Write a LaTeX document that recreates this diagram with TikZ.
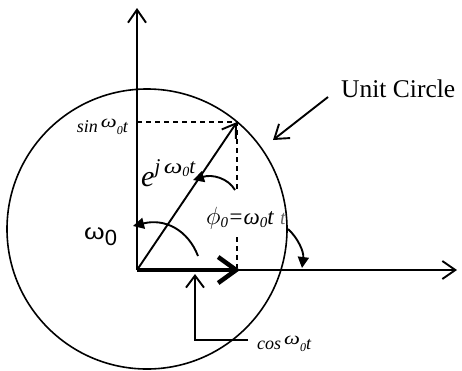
\documentclass[tikz,border=0pt]{standalone}
\usepackage{fontspec}
\setmainfont{Liberation Serif}
\newfontfamily\arialfont{Liberation Sans}
\usetikzlibrary{arrows.meta}
\newcommand{\wideom}{\scalebox{1.25}[1]{ω}}
\begin{document}
\begin{tikzpicture}[x=1pt,y=-1pt,
  barb/.style={-{Straight Barb[length=13pt,width=18pt]}},
  fillhead/.style={-{Triangle[length=11pt,width=11pt]}},
  thin line/.style={line width=1.9pt},
  lab/.style={inner sep=0pt, font=\itshape}]
\useasboundingbox (0,0) rectangle (462,370);
% coordinates
\coordinate (O) at (137,270);
\coordinate (Ytop) at (137,8);
\coordinate (Xend) at (457,270);
\coordinate (C) at (147,229);
\coordinate (P) at (237,122);
\coordinate (S) at (137,122);
\coordinate (Q) at (240,270);
\coordinate (D1) at (237,190);
\coordinate (D2) at (237,237);
\coordinate (D3) at (237,268);
\coordinate (uA) at (328,97);
\coordinate (uT) at (273,140);
\coordinate (cA) at (248,340);
\coordinate (cB) at (195,340);
\coordinate (cT) at (195,274);
\coordinate (pA) at (235,190);
\coordinate (pT) at (193,180);
\coordinate (wA) at (198,256);
\coordinate (wT) at (133,226);
\coordinate (tA) at (288,229);
\coordinate (tT) at (302,268);
% circle
\draw[line width=1.6pt] (C) circle[radius=140pt];
% axes
\draw[thin line, barb] (O) -- (Ytop);
\draw[thin line, barb] (O) -- (Xend);
% dashed projections
\draw[line width=1.2pt, dash pattern=on 5pt off 4pt] (S) -- (P) -- (D1);
\draw[line width=1.2pt, dash pattern=on 5pt off 4pt] (D2) -- (D3);
% vectors
\draw[thin line, -{Straight Barb[length=13pt,width=17pt]}] (O) -- (P);
\draw[line width=4.5pt, -{Straight Barb[length=18pt,width=26pt]}] (O) -- (Q);
% angle arcs
\draw[thin line, fillhead] (pA) .. controls (228,178) and (212,174) .. (pT);
\draw[thin line, fillhead] (wA) .. controls (188,230) and (165,218) .. (wT);
\draw[thin line, fillhead] (tA) .. controls (298,238) and (304,252) .. (tT);
% unit circle pointer
\draw[thin line, barb] (uA) -- (uT);
% cos pointer
\draw[thin line, -{Straight Barb[length=12pt,width=18pt]}] (cA) -- (cB) -- (cT);
% labels
\node[inner sep=0pt, anchor=base west, font=\fontsize{25.5}{28}\selectfont] (unit) at (341,97) {Unit Circle};
\node[lab, anchor=base east, font=\fontsize{18}{20}\selectfont\itshape] (sinl) at (128,132)
  {sin\,\raisebox{5pt}{\wideom}\raisebox{-2pt}{\fontsize{12}{13}\selectfont 0}t};
\node[lab, anchor=base west, font=\fontsize{18}{20}\selectfont\itshape] (cosl) at (257,349)
  {cos\,\raisebox{5pt}{\wideom}\raisebox{-2pt}{\fontsize{12}{13}\selectfont 0}t};
\node[lab, anchor=base west, font=\fontsize{30}{32}\selectfont\itshape] (expl) at (141,186)
  {e\raisebox{13pt}{\fontsize{21}{23}\selectfont\itshape j\,\wideom\raisebox{-3pt}{\fontsize{14}{15}\selectfont 0}t}};
\node[lab, anchor=base west, font=\fontsize{23}{25}\selectfont\itshape] (phil) at (206,224)
  {$\phi$\raisebox{-3pt}{\fontsize{15}{16}\selectfont 0}=ω\raisebox{-3pt}{\fontsize{15}{16}\selectfont 0}t};
\node[lab, anchor=base west, font=\fontsize{20}{22}\selectfont\itshape, text=black!60] (tl) at (280,224) {t};
\node[inner sep=0pt, anchor=base west, font=\arialfont\fontsize{22}{24}\selectfont] (oml) at (84,239)
  {\scalebox{1.2}[1]{ω}\raisebox{-6pt}{0}};
\end{tikzpicture}
\end{document}
